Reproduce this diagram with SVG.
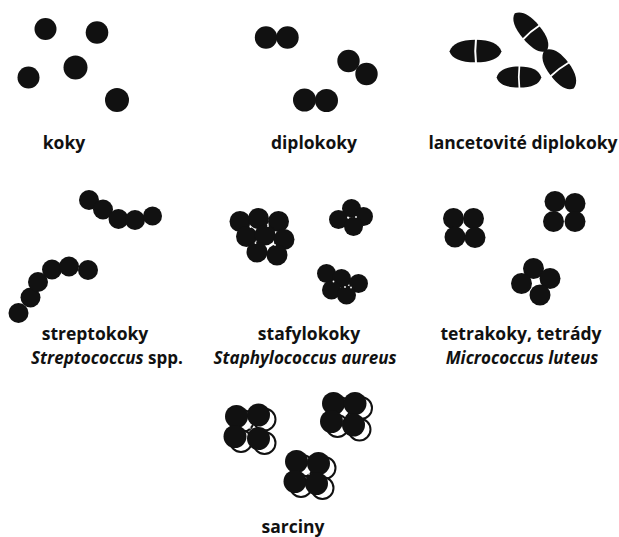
<svg xmlns="http://www.w3.org/2000/svg" xmlns:xlink="http://www.w3.org/1999/xlink" width="619" height="537" viewBox="0 0 619 537">
  <style>
    .cell { fill: #111; }
    .back { fill: #fff; stroke: #111; stroke-width: 2; }
    .speck { fill: #fff; }
    .gap { stroke: #fff; stroke-width: 2; fill: none; }
    .label { font-family: "Open Sans", "Liberation Sans", sans-serif; font-weight: 700; font-size: 17.5px; fill: #111; text-anchor: middle; }
    .sub { font-size: 17px; }
    .it { font-style: italic; }
  </style>
  <defs>
    <!-- lancet-shaped diplococcus pair, long axis along x, centred on the origin -->
    <g id="lancet">
      <path class="cell" d="M -26,0.5 C -23.5,-8 -15,-12.5 0,-12.5 C 15,-12.5 23.5,-8 26,0.5 C 23.5,8.5 15,12.5 0,12.5 C -15,12.5 -23.5,8.5 -26,0.5 Z"/>
      <path class="gap" d="M 0.5,-13.5 Q -1,0 0.5,13.5"/>
    </g>
  </defs>

  <rect width="619" height="537" fill="#fff"/>

  <!-- single cocci -->
  <g id="koky">
    <circle class="cell" cx="45.5" cy="29" r="11"/>
    <circle class="cell" cx="97" cy="32.5" r="11.3"/>
    <circle class="cell" cx="75.5" cy="67.5" r="12"/>
    <circle class="cell" cx="28.5" cy="77.5" r="11"/>
    <circle class="cell" cx="117" cy="100" r="12"/>
    <text class="label" x="64" y="149">koky</text>
  </g>

  <!-- pairs -->
  <g id="diplokoky">
    <circle class="cell" cx="266" cy="37.5" r="11.2"/>
    <circle class="cell" cx="287.5" cy="37.5" r="11.2"/>
    <circle class="cell" cx="348.5" cy="61" r="11.2"/>
    <circle class="cell" cx="366.5" cy="74" r="11.2"/>
    <circle class="cell" cx="304.5" cy="100" r="11.5"/>
    <circle class="cell" cx="326.5" cy="100.5" r="11.5"/>
    <text class="label" x="314" y="149">diplokoky</text>
  </g>

  <!-- lancet-shaped pairs -->
  <g id="lancetovite-diplokoky">
    <use xlink:href="#lancet" href="#lancet" transform="translate(475.5,51) scale(1,0.9)"/>
    <use xlink:href="#lancet" href="#lancet" transform="translate(519,77) scale(0.86,0.84)"/>
    <use xlink:href="#lancet" href="#lancet" transform="translate(531,32) rotate(50) scale(0.95,0.82)"/>
    <use xlink:href="#lancet" href="#lancet" transform="translate(559.5,69) rotate(53) scale(0.93,0.88)"/>
    <text class="label" x="523" y="149">lancetovité diplokoky</text>
  </g>

  <!-- chains -->
  <g id="streptokoky">
    <circle class="cell" cx="89" cy="200" r="10"/>
    <circle class="cell" cx="103" cy="209.5" r="10"/>
    <circle class="cell" cx="118.5" cy="219" r="10"/>
    <circle class="cell" cx="135" cy="220" r="10"/>
    <circle class="cell" cx="152.5" cy="216" r="9.5"/>
    <circle class="cell" cx="18.5" cy="313" r="10"/>
    <circle class="cell" cx="30.5" cy="297.5" r="10"/>
    <circle class="cell" cx="38" cy="282" r="10"/>
    <circle class="cell" cx="52" cy="269.5" r="10"/>
    <circle class="cell" cx="69" cy="266.5" r="10"/>
    <circle class="cell" cx="88" cy="270" r="10"/>
    <text class="label" x="95" y="340">streptokoky</text>
    <text class="label sub" x="107" y="364"><tspan class="it">Streptococcus</tspan> spp.</text>
  </g>

  <!-- grape-like clusters -->
  <g id="stafylokoky">
    <circle class="cell" cx="240" cy="221.5" r="10.5"/>
    <circle class="cell" cx="258.5" cy="218.5" r="10.5"/>
    <circle class="cell" cx="278.5" cy="221.5" r="10.5"/>
    <circle class="cell" cx="246.5" cy="236.5" r="10.5"/>
    <circle class="cell" cx="265" cy="235" r="10.5"/>
    <circle class="cell" cx="284" cy="239.5" r="10.5"/>
    <circle class="cell" cx="257" cy="252" r="10.5"/>
    <circle class="cell" cx="277" cy="255" r="10.5"/>
    <circle class="speck" cx="250.5" cy="227" r="0.9"/>
    <circle class="speck" cx="268" cy="226" r="0.9"/>
    <circle class="speck" cx="255.5" cy="243" r="0.9"/>
    <circle class="speck" cx="275" cy="245" r="0.9"/>

    <circle class="cell" cx="351.5" cy="208.5" r="9.5"/>
    <circle class="cell" cx="338.5" cy="219.5" r="9.5"/>
    <circle class="cell" cx="363.5" cy="216.5" r="9.5"/>
    <circle class="cell" cx="353.5" cy="226.5" r="9.5"/>
    <circle class="speck" cx="348" cy="217.5" r="0.9"/>
    <circle class="speck" cx="356" cy="217" r="0.9"/>

    <circle class="cell" cx="326.5" cy="273.5" r="9.5"/>
    <circle class="cell" cx="341.5" cy="278.5" r="9.5"/>
    <circle class="cell" cx="358.5" cy="283.5" r="9.5"/>
    <circle class="cell" cx="331.5" cy="290" r="9.5"/>
    <circle class="cell" cx="346.5" cy="295" r="9.5"/>
    <circle class="speck" cx="333.5" cy="281.5" r="0.9"/>
    <circle class="speck" cx="345" cy="287" r="0.9"/>
    <circle class="speck" cx="351" cy="287.5" r="0.9"/>
    <text class="label" x="309" y="340">stafylokoky</text>
    <text class="label sub it" x="305" y="364">Staphylococcus aureus</text>
  </g>

  <!-- groups of four -->
  <g id="tetrakoky">
    <circle class="cell" cx="453.5" cy="218.5" r="10.5"/>
    <circle class="cell" cx="473.5" cy="218.5" r="10.5"/>
    <circle class="cell" cx="455" cy="237" r="10.5"/>
    <circle class="cell" cx="475" cy="237.5" r="10.5"/>

    <circle class="cell" cx="555" cy="201.5" r="10.5"/>
    <circle class="cell" cx="575" cy="203.5" r="10.5"/>
    <circle class="cell" cx="553.5" cy="221.5" r="10.5"/>
    <circle class="cell" cx="575" cy="221.5" r="10.5"/>

    <circle class="cell" cx="533.5" cy="268.5" r="10.5"/>
    <circle class="cell" cx="521.5" cy="283.5" r="10.5"/>
    <circle class="cell" cx="550" cy="278.5" r="10.5"/>
    <circle class="cell" cx="540" cy="295" r="10.5"/>
    <text class="label" x="521" y="340">tetrakoky, tetrády</text>
    <text class="label sub it" x="522" y="364">Micrococcus luteus</text>
  </g>

  <!-- packets of eight: rear layer outlined, front layer solid -->
  <g id="sarciny">
    <g transform="translate(6,4.5)">
      <circle class="back" cx="236.5" cy="416.5" r="11"/>
      <circle class="back" cx="258.5" cy="415" r="11"/>
      <circle class="back" cx="235" cy="436.5" r="11"/>
      <circle class="back" cx="258.5" cy="438.5" r="11"/>
    </g>
    <circle class="cell" cx="236.5" cy="416.5" r="11.5"/>
    <circle class="cell" cx="258.5" cy="415" r="11.5"/>
    <circle class="cell" cx="235" cy="436.5" r="11.5"/>
    <circle class="cell" cx="258.5" cy="438.5" r="11.5"/>
    <circle class="speck" cx="247" cy="425" r="1"/>
    <circle class="speck" cx="250" cy="428" r="0.8"/>

    <g transform="translate(6,4.5)">
      <circle class="back" cx="333.5" cy="403.5" r="11"/>
      <circle class="back" cx="355" cy="403.5" r="11"/>
      <circle class="back" cx="331.5" cy="421.5" r="11"/>
      <circle class="back" cx="353.5" cy="425" r="11"/>
    </g>
    <circle class="cell" cx="333.5" cy="403.5" r="11.5"/>
    <circle class="cell" cx="355" cy="403.5" r="11.5"/>
    <circle class="cell" cx="331.5" cy="421.5" r="11.5"/>
    <circle class="cell" cx="353.5" cy="425" r="11.5"/>
    <circle class="speck" cx="343" cy="412" r="1"/>
    <circle class="speck" cx="345" cy="416" r="0.8"/>

    <g transform="translate(6,4.5)">
      <circle class="back" cx="296.5" cy="461.5" r="11"/>
      <circle class="back" cx="318.5" cy="463.5" r="11"/>
      <circle class="back" cx="295" cy="481.5" r="11"/>
      <circle class="back" cx="316.5" cy="483.5" r="11"/>
    </g>
    <circle class="cell" cx="296.5" cy="461.5" r="11.5"/>
    <circle class="cell" cx="318.5" cy="463.5" r="11.5"/>
    <circle class="cell" cx="295" cy="481.5" r="11.5"/>
    <circle class="cell" cx="316.5" cy="483.5" r="11.5"/>
    <circle class="speck" cx="306" cy="471" r="1"/>
    <circle class="speck" cx="309" cy="474" r="0.8"/>
    <text class="label" x="293" y="533">sarciny</text>
  </g>
</svg>
